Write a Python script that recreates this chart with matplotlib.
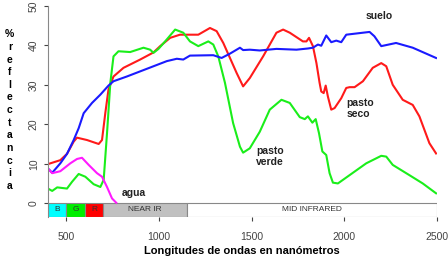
import matplotlib.pyplot as plt
from matplotlib.patches import Rectangle
import numpy as np

plt.rcParams['font.family'] = ['Liberation Sans', 'DejaVu Sans']

# pasto seco (red)
seco_x = [400, 467, 503, 539, 557, 611, 674, 692, 710, 727, 754, 808, 898, 970, 1006, 1060,
          1113, 1131, 1212, 1275, 1311, 1347, 1419, 1454, 1490, 1562, 1634, 1670, 1706, 1777,
          1796, 1810, 1831, 1850, 1867, 1876, 1889, 1900, 1912, 1930, 1948, 1984, 2011, 2029,
          2056, 2101, 2154, 2200, 2227, 2262, 2316, 2370, 2406, 2460, 2496]
seco_y = [9.9, 10.9, 12.5, 15.6, 16.6, 16.0, 15.0, 16.0, 22.9, 28.8, 32.1, 34.3, 36.4, 38.2, 39.8, 41.9,
          42.7, 42.7, 42.7, 44.4, 43.6, 40.6, 33.0, 29.6, 31.7, 37.2, 43.2, 44.0, 43.2, 41.0,
          41.0, 41.9, 39.8, 35.5, 30.5, 28.3, 27.9, 29.8, 27.0, 23.7, 24.1, 26.6, 29.2, 29.4,
          29.4, 30.9, 34.3, 35.5, 34.7, 30.0, 26.2, 24.9, 22.0, 15.2, 12.6]

# pasto verde (green)
verde_x = [400, 423, 450, 503, 530, 566, 602, 647, 683, 701, 719, 737, 754, 781, 844, 916, 952, 970,
           997, 1042, 1087, 1131, 1167, 1212, 1266, 1293, 1320, 1356, 1400, 1437, 1454, 1490, 1544,
           1598, 1661, 1706, 1760, 1787, 1804, 1828, 1846, 1864, 1882, 1903, 1921, 1939, 1966, 2029,
           2119, 2200, 2227, 2262, 2352, 2424, 2496]
verde_y = [3.7, 3.1, 4.0, 3.7, 5.4, 7.4, 6.7, 4.8, 4.1, 5.9, 17.7, 30.5, 37.2, 38.5, 38.3, 39.4, 38.9, 38.1,
           39.1, 41.5, 44.0, 43.2, 41.0, 39.8, 41.0, 40.2, 37.2, 30.5, 20.3, 14.3, 12.8, 13.9, 18.1,
           23.7, 26.2, 25.4, 21.8, 21.3, 22.0, 20.4, 21.3, 17.7, 13.1, 12.2, 7.6, 5.2, 5.0, 7.1,
           10.1, 12.0, 11.8, 9.7, 7.1, 5.0, 2.5]

# suelo (blue)
suelo_x = [400, 423, 467, 503, 539, 566, 593, 638, 683, 727, 754, 826, 898, 970, 1042, 1096, 1131,
           1167, 1293, 1338, 1383, 1437, 1454, 1490, 1544, 1634, 1742, 1804, 1831, 1858, 1876, 1903,
           1930, 1957, 1984, 2011, 2065, 2137, 2163, 2200, 2280, 2370, 2496]
suelo_y = [8.8, 7.7, 10.1, 12.5, 16.0, 19.0, 22.8, 25.4, 27.5, 29.8, 30.9, 32.1, 33.4, 34.7, 36.0, 36.6, 36.4,
           37.4, 37.5, 36.8, 37.9, 39.4, 38.8, 38.9, 38.7, 39.1, 38.9, 39.2, 39.4, 40.2, 39.9, 42.5,
           40.8, 41.2, 40.8, 42.7, 43.0, 43.4, 42.3, 39.8, 40.6, 39.4, 36.8]

# agua (magenta)
agua_x = [400, 423, 467, 521, 557, 584, 620, 665, 692, 719, 746, 769]
agua_y = [8.8, 7.6, 8.1, 10.1, 11.2, 11.5, 9.7, 7.6, 6.7, 4.1, 1.2, 0.1]

# spectral bands under the plot
band_names = ['B', 'G', 'R', 'NEAR IR', 'MID INFRARED']
band_start = [400, 500, 600, 700, 1150]
band_end = [500, 600, 700, 1150, 2500]
band_colors = ['#00ffff', '#00ee00', '#ff0000', '#c0c0c0', '#ffffff']

fig = plt.figure(figsize=(4.48, 2.56), dpi=100)
ax = fig.add_axes([0.107, 0.154, 0.868, 0.823])

ax.plot(seco_x, seco_y, color='#ff1a1a', lw=1.5)
ax.plot(verde_x, verde_y, color='#1aee1a', lw=1.5)
ax.plot(suelo_x, suelo_y, color='#1a1aff', lw=1.5)
ax.plot(agua_x, agua_y, color='#ff1aff', lw=1.5)

bar_h = 3.4
for name, s, e, c in zip(band_names, band_start, band_end, band_colors):
    ax.add_patch(Rectangle((s, -bar_h), e - s, bar_h, facecolor=c, edgecolor='#888888', lw=0.8))
    ax.text((s + e) / 2, -bar_h / 2, name, ha='center', va='center', fontsize=6, color='#333333')

tb = dict(fontsize=7.5, fontweight='bold', color='#222222')
ax.text(2190, 47.5, 'suelo', ha='center', va='center', **tb)
ax.text(2013, 24, 'pasto\nseco', ha='left', va='center', linespacing=1.1, **tb)
ax.text(1523, 11.8, 'pasto\nverde', ha='left', va='center', linespacing=1.1, **tb)
ax.text(801, 2.5, 'agua', ha='left', va='center', **tb)

ax.set_xlim(400, 2500)
ax.set_ylim(-bar_h, 50)
ax.set_xticks([500, 1000, 1500, 2000, 2500])
ax.set_yticks([0, 10, 20, 30, 40, 50])
ax.tick_params(axis='both', labelsize=7.5, colors='#444444', length=3, width=0.8)
for lab in ax.get_yticklabels():
    lab.set_rotation(90)
    lab.set_va('center')
ax.spines['top'].set_visible(False)
ax.spines['right'].set_visible(False)
ax.spines['left'].set_color('#888888')
ax.spines['bottom'].set_visible(False)
ax.tick_params(axis='x', pad=8)

ax.set_xlabel('Longitudes de ondas en nanómetros', fontsize=8, fontweight='bold', labelpad=3)
fig.text(0.022, 0.57, '\n'.join('%reflectancia'), ha='center', va='center',
         fontsize=7.5, fontweight='bold', linespacing=1.33)

fig.savefig('out.png', dpi=100)
